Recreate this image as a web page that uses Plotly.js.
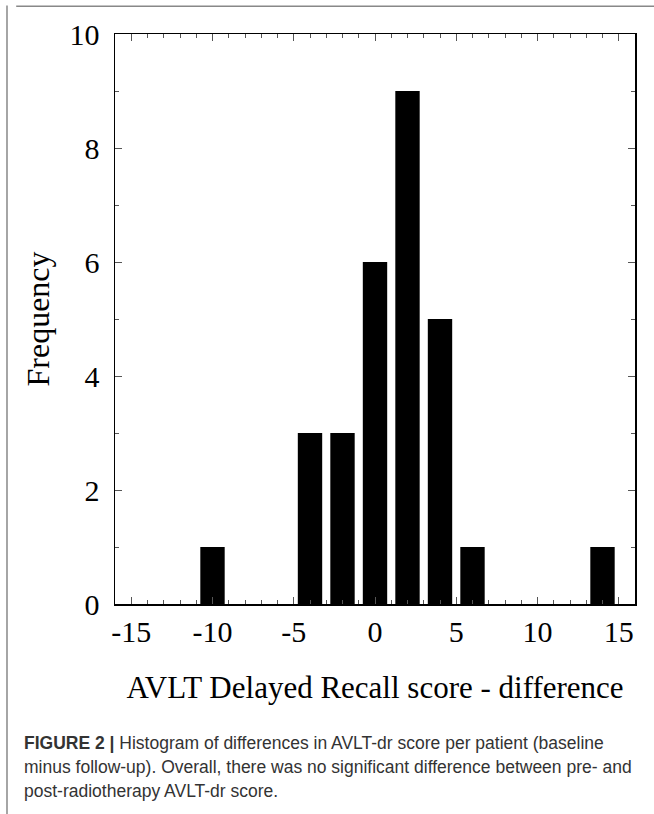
<!DOCTYPE html>
<html>
<head>
<meta charset="utf-8">
<script src="https://cdn.plot.ly/plotly-3.0.1.min.js"></script>
<style>
html,body{margin:0;padding:0;background:#fff;}
#chart{width:654px;height:814px;}
</style>
</head>
<body>
<div id="chart"></div>
<script>
// Bin centres (score difference) and frequencies
const binCenters = [-10, -4, -2, 0, 2, 4, 6, 14];
const frequencies = [1, 3, 3, 6, 9, 5, 1, 1];
const xTickVals = [-15, -10, -5, 0, 5, 10, 15];
const yTickVals = [0, 2, 4, 6, 8, 10];
const xTitle = "AVLT Delayed Recall score - difference";
const yTitle = "Frequency";
const captionLines = [
  "<b>FIGURE 2 |</b> Histogram of differences in AVLT-dr score per patient (baseline",
  "minus follow-up). Overall, there was no significant difference between pre- and",
  "post-radiotherapy AVLT-dr score."
];

const serif = "Liberation Serif, Times New Roman, serif";
const sans = "Liberation Sans, Arial, sans-serif";

const trace = {
  type: "bar",
  x: binCenters,
  y: frequencies,
  marker: {color: "#000000", line: {width: 0}},
  hoverinfo: "x+y"
};

const axisCommon = {
  showgrid: false,
  zeroline: false,
  showline: true,
  linecolor: "#000",
  linewidth: 1.5,
  mirror: "allticks",
  ticks: "inside",
  ticklen: 7,
  tickwidth: 1,
  tickcolor: "#555",
  tickfont: {family: serif, size: 30, color: "#000"},
  minor: {ticks: "inside", ticklen: 4, tickwidth: 1, tickcolor: "#555", dtick: 1, showgrid: false}
};

const annotations = captionLines.map((t, i) => ({
  xref: "paper", yref: "paper",
  x: -0.178, xanchor: "left",
  y: 0, yanchor: "middle",
  yshift: -139 - i * 24,
  text: t,
  showarrow: false,
  align: "left",
  font: {family: sans, size: 17.5, color: "#333"}
}));

const layout = {
  width: 654,
  height: 814,
  margin: {l: 115, r: 19, t: 34, b: 210},
  paper_bgcolor: "#fff",
  plot_bgcolor: "#fff",
  bargap: 0.25,
  showlegend: false,
  xaxis: Object.assign({}, axisCommon, {
    range: [-16, 16],
    tickvals: xTickVals,
    ticktext: xTickVals.map(String),
    title: {text: xTitle, font: {family: serif, size: 31, color: "#000"}, standoff: 30}
  }),
  yaxis: Object.assign({}, axisCommon, {
    range: [0, 10],
    tickvals: yTickVals,
    ticktext: yTickVals.map(String),
    ticklabelstandoff: 8,
    title: {text: yTitle, font: {family: serif, size: 32, color: "#000"}, standoff: 10}
  }),
  shapes: [
    {type: "line", xref: "paper", yref: "paper", x0: -0.19, x1: 1.04, y0: 1.0485, y1: 1.0485,
     line: {color: "#888", width: 1.5}},
    {type: "line", xref: "paper", yref: "paper", x0: -0.2077, x1: -0.2077, y0: 1.05, y1: -0.4,
     line: {color: "#888", width: 1.5}}
  ],
  annotations: annotations
};

Plotly.newPlot("chart", [trace], layout, {displayModeBar: false, staticPlot: true});
</script>
</body>
</html>
